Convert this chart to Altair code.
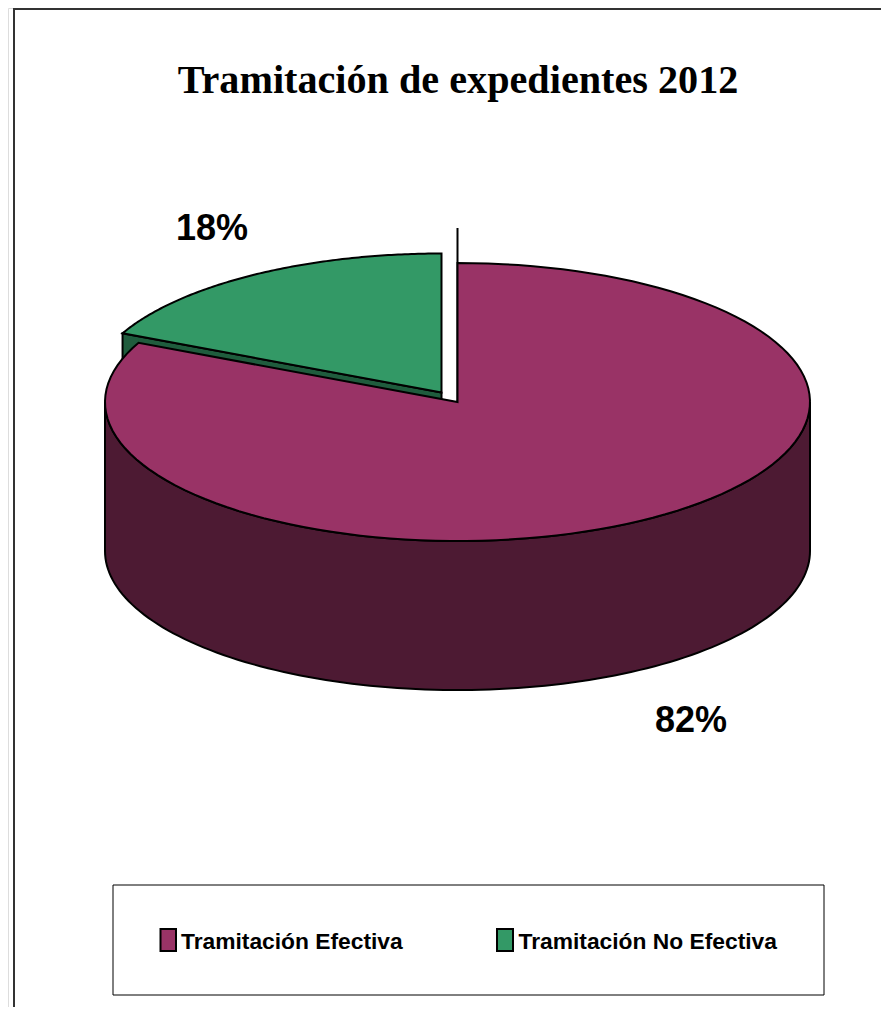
import numpy as np
import pandas as pd
import altair as alt

# ---- data
categories = ["Tramitación Efectiva", "Tramitación No Efectiva"]
shares = [82, 18]
share_labels = ["82%", "18%"]
title_text = "Tramitación de expedientes 2012"

# ---- styling
W, H = 873, 999
OFF = 8  # page margin: scales are expressed in page pixels
PINK, PINK_DARK = "#993366", "#4d1a33"
GREEN, GREEN_DARK = "#339966", "#1f5c3d"
RX, RY, DEPTH = 352.5, 139, 149
CX, CY = 457.5, 402
DX, DY = -16, -9.5  # explode offset of the small slice

x_scale = alt.Scale(domain=[OFF, OFF + W], nice=False, zero=False)
y_scale = alt.Scale(domain=[OFF, OFF + H], reverse=True, nice=False, zero=False)


def rim(share_from, share_to, cx, cy, n=120):
    """Points of the pie rim between two cumulative shares (clockwise from 12 o'clock)."""
    t = np.radians(np.linspace(share_from, share_to, n) * 3.6)
    return cx + RX * np.sin(t), cy - RY * np.cos(t)


def polygon(xs, ys, fill, stroke_width=2, stroke="black", interpolate="linear-closed"):
    df = pd.DataFrame({"x": xs, "y": ys, "o": range(len(xs))})
    return (
        alt.Chart(df)
        .mark_line(fill=fill, stroke=stroke, strokeWidth=stroke_width, interpolate=interpolate, strokeJoin="miter")
        .encode(
            x=alt.X("x:Q", scale=x_scale, axis=None),
            y=alt.Y("y:Q", scale=y_scale, axis=None),
            order="o:Q",
        )
    )


def label(rows, size, font="Liberation Sans", align="center"):
    df = pd.DataFrame(rows, columns=["x", "y", "t"])
    return (
        alt.Chart(df)
        .mark_text(font=font, fontWeight="bold", fontSize=size, align=align, baseline="alphabetic", color="black")
        .encode(
            x=alt.X("x:Q", scale=x_scale, axis=None),
            y=alt.Y("y:Q", scale=y_scale, axis=None),
            text="t:N",
        )
    )


big, small = shares
# small slice (exploded), drawn first
gx, gy = rim(big, big + small, CX + DX, CY + DY)
ax, ay = CX + DX, CY + DY
green_wall = polygon([gx[0], ax, ax, gx[0]], [gy[0], ay, ay + DEPTH, gy[0] + DEPTH], GREEN_DARK)
green_top = polygon(np.r_[ax, gx], np.r_[ay, gy], GREEN)
# stray vertical edge above the big slice's start
edge = polygon([CX, CX], [CY, 228], "none")

# big slice
px, py = rim(0, big, CX, CY)
wx, wy = rim(25, 75, CX, CY)
pink_wall = polygon(np.r_[wx, wx[::-1]], np.r_[wy, wy[::-1] + DEPTH], PINK_DARK)
pink_top = polygon(np.r_[CX, px], np.r_[CY, py], PINK)

# frame: open on the right and at the bottom, as in the picture
frame = polygon([14, 14, 881], [1007, 9, 9], "none", 2, "#333333", "linear")

title = label([(458, 93, title_text)], 40.2, font="Liberation Serif")
pct = label([(691, 732, share_labels[0]), (212, 240, share_labels[1])], 36)

legend_box = polygon([113, 824, 824, 113], [885, 885, 995, 995], "none", 1)
swatch_a = polygon([160.5, 176, 176, 160.5], [929, 929, 951, 951], PINK)
swatch_b = polygon([497, 513, 513, 497], [929, 929, 951, 951], GREEN)
legend_text = label([(181, 948.5, categories[0]), (518.5, 948.5, categories[1])], 22.8, align="left")

chart = alt.layer(
    frame, green_wall, green_top, edge, pink_wall, pink_top,
    title, pct, legend_box, swatch_a, swatch_b, legend_text,
).properties(
    width=W, height=H, padding=0, autosize=alt.AutoSizeParams(type="none"),
).configure_view(stroke=None).configure(background="white")

chart.save("out.html", embed_options={"renderer": "svg", "actions": False})
